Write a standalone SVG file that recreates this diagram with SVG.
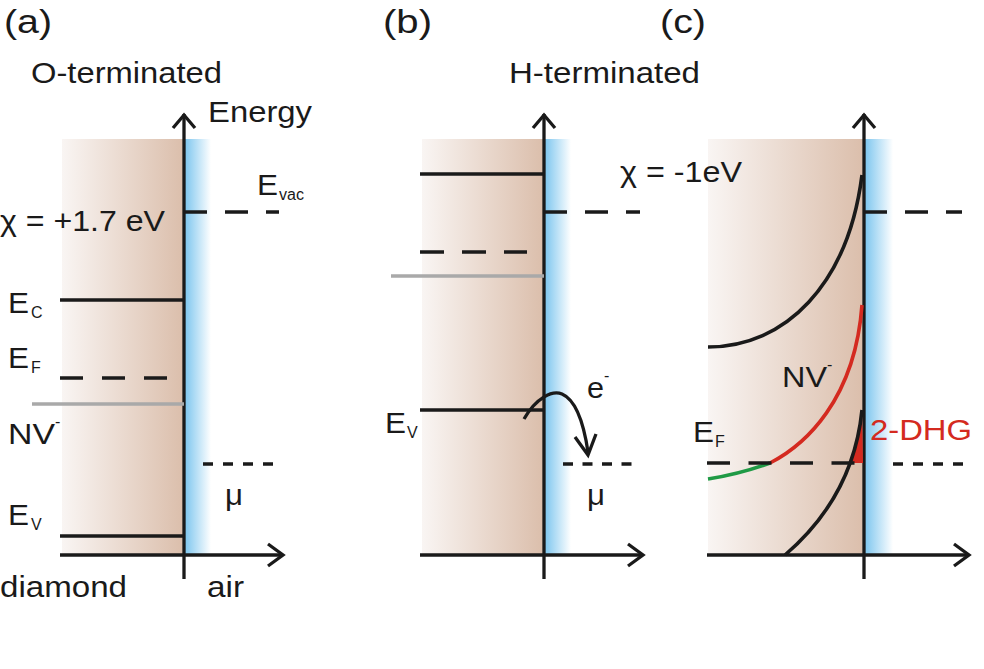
<svg xmlns="http://www.w3.org/2000/svg" width="984" height="669" viewBox="0 0 984 669">
<defs>
<linearGradient id="brown" x1="0" y1="0" x2="1" y2="0">
<stop offset="0" stop-color="#f9f5f3"/>
<stop offset="1" stop-color="#dbbeab"/>
</linearGradient>
<linearGradient id="blue" x1="0" y1="0" x2="1" y2="0">
<stop offset="0" stop-color="#79c4ee"/>
<stop offset="1" stop-color="#ffffff"/>
</linearGradient>
<style>
text{font-family:"Liberation Sans",Arial,sans-serif;fill:#1a1a1a}
.hd{font-size:33px}
.big{font-size:29px}
.lbl{font-size:30px}
.sub{font-size:16px}
.ln{stroke:#1a1a1a;stroke-width:3.3;fill:none}
.ax{stroke:#1a1a1a;stroke-width:3.3;fill:none;stroke-linejoin:miter}
.dl{stroke:#1a1a1a;stroke-width:3.3;fill:none;stroke-dasharray:23 18}
.ds{stroke:#1a1a1a;stroke-width:3.3;fill:none;stroke-dasharray:10 10}
.grey{stroke:#a9a9a9;stroke-width:3.3;fill:none}
</style>
</defs>
<rect width="984" height="669" fill="#ffffff"/>

<g id="backgrounds">
<rect x="62" y="139" width="122" height="416" fill="url(#brown)"/>
<rect x="184" y="139" width="27" height="416" fill="url(#blue)"/>
<rect x="422" y="139" width="122" height="416" fill="url(#brown)"/>
<rect x="544" y="139" width="27" height="416" fill="url(#blue)"/>
<rect x="708" y="139" width="156" height="416" fill="url(#brown)"/>
<rect x="864" y="139" width="29" height="416" fill="url(#blue)"/>
</g>

<g id="panel-a">
<text class="hd" x="4" y="33" textLength="48" lengthAdjust="spacingAndGlyphs">(a)</text>
<text class="big" x="31" y="83" textLength="191" lengthAdjust="spacingAndGlyphs">O-terminated</text>
<text class="big" x="208" y="122" textLength="104" lengthAdjust="spacingAndGlyphs">Energy</text>
<text class="lbl" x="257" y="195" textLength="21" lengthAdjust="spacingAndGlyphs">E</text><text class="sub" x="279" y="200" font-size="17" textLength="25" lengthAdjust="spacingAndGlyphs">vac</text>
<text class="lbl" x="0" y="231" font-size="31" textLength="165" lengthAdjust="spacingAndGlyphs">χ = +1.7 eV</text>
<text class="lbl" x="8" y="313" textLength="21" lengthAdjust="spacingAndGlyphs">E</text><text class="sub" x="31" y="318">C</text>
<text class="lbl" x="8" y="368" textLength="21" lengthAdjust="spacingAndGlyphs">E</text><text class="sub" x="31" y="373">F</text>
<text class="lbl" x="8" y="444" textLength="47" lengthAdjust="spacingAndGlyphs">NV</text><text class="sub" x="55" y="427">-</text>
<text class="lbl" x="8" y="525" textLength="21" lengthAdjust="spacingAndGlyphs">E</text><text class="sub" x="31" y="530">V</text>
<text class="lbl" x="225" y="505" textLength="18" lengthAdjust="spacingAndGlyphs">μ</text>
<text class="big" x="0" y="597" textLength="127" lengthAdjust="spacingAndGlyphs">diamond</text>
<text class="big" x="207" y="597" textLength="37" lengthAdjust="spacingAndGlyphs">air</text>
</g>

<g id="panel-b">
<text class="hd" x="383" y="33" textLength="49" lengthAdjust="spacingAndGlyphs">(b)</text>
<text class="big" x="509" y="83" textLength="191" lengthAdjust="spacingAndGlyphs">H-terminated</text>
<text class="lbl" x="620" y="182" font-size="31" textLength="122" lengthAdjust="spacingAndGlyphs">χ = -1eV</text>
<text class="lbl" x="385" y="433" textLength="21" lengthAdjust="spacingAndGlyphs">E</text><text class="sub" x="407" y="438">V</text>
<text class="lbl" x="587" y="398" textLength="17" lengthAdjust="spacingAndGlyphs">e</text><text class="sub" x="604" y="381">-</text>
<text class="lbl" x="587" y="505" textLength="18" lengthAdjust="spacingAndGlyphs">μ</text>
</g>

<g id="panel-c">
<text class="hd" x="660" y="33" textLength="46" lengthAdjust="spacingAndGlyphs">(c)</text>
<text class="lbl" x="782" y="387" textLength="45" lengthAdjust="spacingAndGlyphs">NV</text><text class="sub" x="827" y="370">-</text>
<text class="lbl" x="693" y="442" textLength="21" lengthAdjust="spacingAndGlyphs">E</text><text class="sub" x="715" y="447">F</text>
<text class="lbl" x="870" y="440" textLength="102" lengthAdjust="spacingAndGlyphs" style="fill:#d42a20">2-DHG</text>
</g>

<g id="connectors">
<!-- panel a -->
<path class="ax" d="M184,579 V114"/>
<path class="ax" d="M173,128 L184,115 L195,128"/>
<path class="ax" d="M60,555 H283"/>
<path class="ax" d="M268,544 L283,555 L268,566"/>
<path class="dl" d="M184,212 H279"/>
<path class="ln" d="M60,300 H184"/>
<path class="dl" d="M60,378 H167" style="stroke-dasharray:23 19"/>
<path class="grey" d="M32,404 H184"/>
<path class="ds" d="M203,464 H276"/>
<path class="ln" d="M60,536 H184"/>

<!-- panel b -->
<path class="ax" d="M544,579 V114"/>
<path class="ax" d="M533,128 L544,115 L555,128"/>
<path class="ax" d="M420,555 H643"/>
<path class="ax" d="M628,544 L643,555 L628,566"/>
<path class="ln" d="M420,174 H544"/>
<path class="dl" d="M544,212 H640"/>
<path class="dl" d="M420,252 H527" style="stroke-dasharray:24 18"/>
<path class="grey" d="M391,276 H544"/>
<path class="ln" d="M420,410 H544"/>
<path class="ds" d="M563,464 H637" style="stroke-dasharray:10 9.5"/>
<path class="ln" d="M524,419 C536,398 552,390 562,394 C576,400 584,425 588,452"/>
<path class="ax" d="M575,437 L588,455 L596,434"/>

<!-- panel c -->
<path class="ax" d="M864,579 V114"/>
<path class="ax" d="M853,128 L864,115 L875,128"/>
<path class="ax" d="M707,555 H969"/>
<path class="ax" d="M954,544 L969,555 L954,566"/>
<path class="dl" d="M864,212 H962"/>
<path class="ln" d="M708,347 C785,347 848,285 862,175" style="stroke-width:3.6"/>
<path d="M850,463 Q858,440 862,412 L863,463 Z" fill="#d42a20"/>
<path d="M708,479 Q740,474 770,463" stroke="#1f9a45" stroke-width="3.6" fill="none"/>
<path d="M770,463 C805,445 855,400 862,305" stroke="#d42a20" stroke-width="3.6" fill="none"/>
<path class="dl" d="M707,463 H862" style="stroke-dasharray:23 18.5"/>
<path class="ds" d="M893,464 H966"/>
<path class="ln" d="M785,555 C820,525 855,480 862,410" style="stroke-width:3.6"/>
</g>
</svg>
